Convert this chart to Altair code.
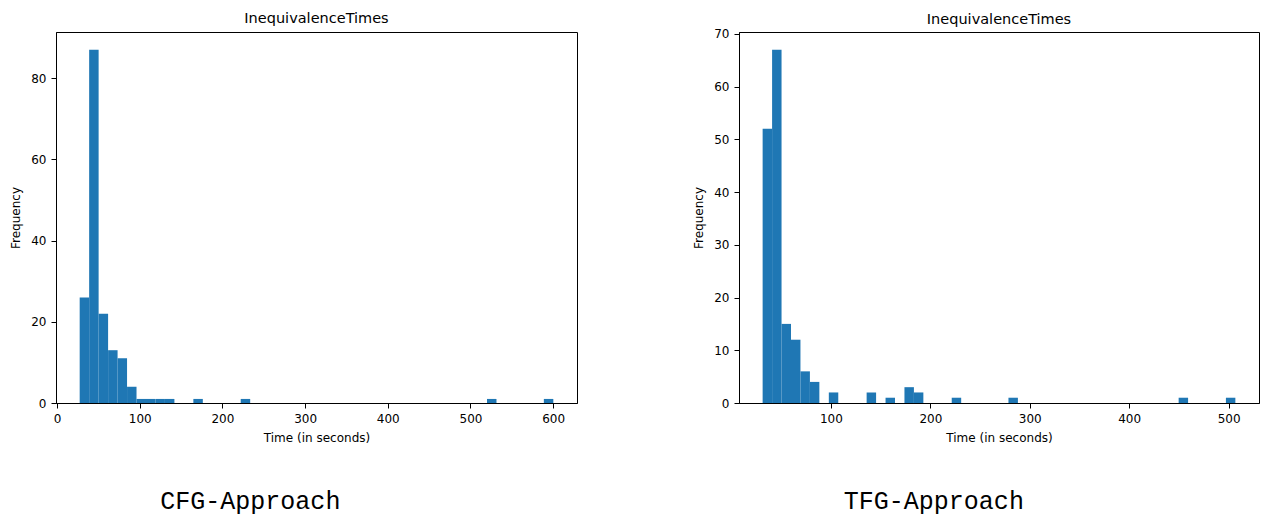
import altair as alt
import numpy as np
import pandas as pd

# ---- data ----
cfg_min, cfg_max = 27.4, 600.2
cfg_counts = [26, 87, 22, 13, 11, 4, 1, 1, 1, 1,
              0, 0, 1, 0, 0, 0, 0, 1, 0, 0,
              0, 0, 0, 0, 0, 0, 0, 0, 0, 0,
              0, 0, 0, 0, 0, 0, 0, 0, 0, 0,
              0, 0, 0, 1, 0, 0, 0, 0, 0, 1]

tfg_min, tfg_max = 31.3, 506.8
tfg_counts = [52, 67, 15, 12, 6, 4, 0, 2, 0, 0,
              0, 2, 0, 1, 0, 3, 2, 0, 0, 0,
              1, 0, 0, 0, 0, 0, 1, 0, 0, 0,
              0, 0, 0, 0, 0, 0, 0, 0, 0, 0,
              0, 0, 0, 0, 1, 0, 0, 0, 0, 1]

cfg_xticks = [0, 100, 200, 300, 400, 500, 600]
cfg_yticks = [0, 20, 40, 60, 80]
tfg_xticks = [100, 200, 300, 400, 500]
tfg_yticks = [0, 10, 20, 30, 40, 50, 60, 70]

panel_title = "InequivalenceTimes"
x_title = "Time (in seconds)"
y_title = "Frequency"
captions = ["CFG-Approach", "TFG-Approach"]

BLUE = "#1f77b4"


def make_df(lo, hi, counts):
    edges = np.linspace(lo, hi, len(counts) + 1)
    df = pd.DataFrame({"start": edges[:-1], "end": edges[1:], "count": counts})
    df["base"] = 0
    return df[df["count"] > 0]


def panel(lo, hi, counts, xticks, yticks, width, height, caption, cap_dx, title_offset):
    df = make_df(lo, hi, counts)
    r = hi - lo
    xdom = [lo - 0.05 * r, hi + 0.05 * r]
    ydom = [0, max(counts) * 1.05]
    bars = alt.Chart(df).mark_rect(color=BLUE).encode(
        x=alt.X("start:Q", scale=alt.Scale(domain=xdom, nice=False, zero=False),
                axis=alt.Axis(values=xticks, title=x_title, format="d")),
        x2="end:Q",
        y=alt.Y("count:Q", scale=alt.Scale(domain=ydom, nice=False),
                axis=alt.Axis(values=yticks, title=y_title, format="d")),
        y2="base:Q",
    ).properties(width=width, height=height,
                 title=alt.TitleParams(panel_title, offset=title_offset))
    return alt.vconcat(bars).properties(
        title=alt.TitleParams(caption, orient="bottom", anchor="middle",
                              font="Liberation Mono", fontSize=25,
                              fontWeight="normal", color="black",
                              offset=45, dx=cap_dx)
    )


left = panel(cfg_min, cfg_max, cfg_counts, cfg_xticks, cfg_yticks, 521, 371, captions[0], -43, 6)
right = panel(tfg_min, tfg_max, tfg_counts, tfg_xticks, tfg_yticks, 520, 371, captions[1], -42, 0)

chart = alt.hconcat(left, right, spacing=114).properties(
    padding={"left": 9, "top": 10, "right": 5, "bottom": 5}
).configure_view(
    stroke="black", strokeWidth=1
).configure_axis(
    grid=False,
    domainColor="black",
    tickColor="black",
    tickSize=5,
    labelColor="black",
    labelFont="DejaVu Sans",
    labelFontSize=12,
    labelPadding=5,
    titleFont="DejaVu Sans",
    titleFontSize=12,
    titleFontWeight="normal",
    titleColor="black",
    titlePadding=8,
).configure_title(
    font="DejaVu Sans",
    fontSize=14.5,
    fontWeight="normal",
    color="black",
).configure_concat(spacing=0)

chart.save("out.html", embed_options={"renderer": "svg", "actions": False})
